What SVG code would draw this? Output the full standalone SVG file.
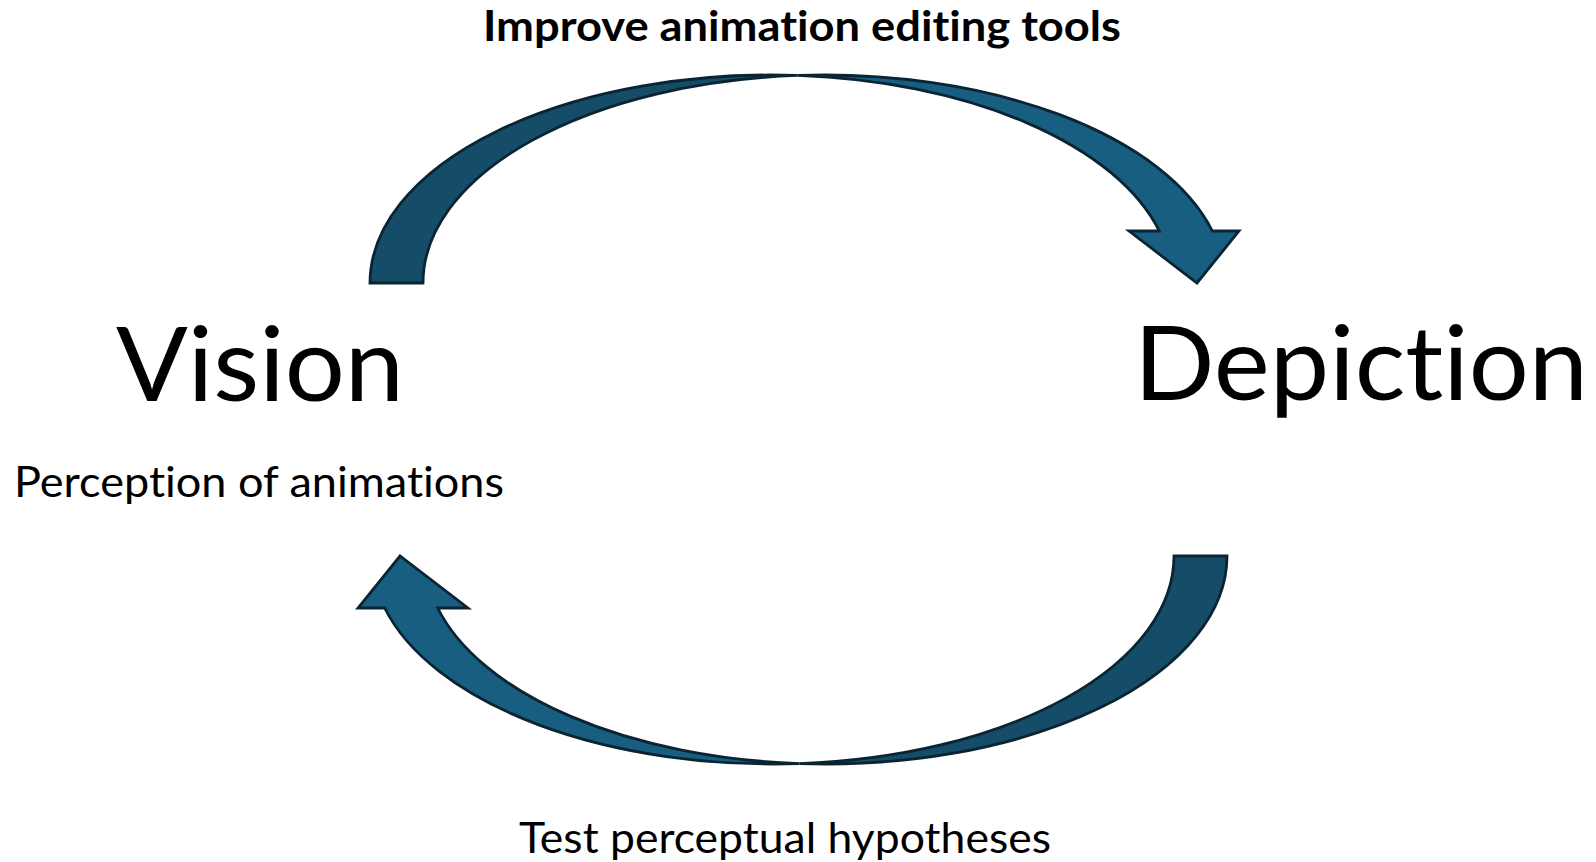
<svg xmlns="http://www.w3.org/2000/svg" xmlns:xlink="http://www.w3.org/1999/xlink" width="1596" height="862" viewBox="0 0 1596 862">
  <style>
    .back { fill: #154c68; stroke: #0a2433; stroke-width: 2.8; stroke-linejoin: miter; }
    .front { fill: #175e80; stroke: #0a2433; stroke-width: 2.8; stroke-linejoin: miter; }
    text { font-family: Lato, "Open Sans", "Liberation Sans", sans-serif; fill: #000; font-variant-ligatures: none; font-feature-settings: "liga" 0, "clig" 0; }
    .big { font-size: 103px; }
    .sub { font-size: 42px; }
    .subb { font-size: 42px; font-weight: bold; }
  </style>
  <defs>
    <g id="curvedArrow">
      <path class="front" d="M 797.5,75.45 A 401 208 0 0 1 1212.3,231 L 1239,231 L 1197,283 L 1129,231 L 1159.3,231 A 401 208 0 0 0 797.5,75.45 Z"/>
      <path class="back" d="M 370,283 A 401 208 0 0 1 797.5,75.45 A 401 208 0 0 0 423,283 Z"/>
    </g>
  </defs>
  <rect x="0" y="0" width="1596" height="862" fill="#ffffff"/>
  <g id="connectors">
    <use id="arrow-vision-to-depiction" xlink:href="#curvedArrow" href="#curvedArrow"/>
    <use id="arrow-depiction-to-vision" xlink:href="#curvedArrow" href="#curvedArrow" transform="rotate(180 798.5 419.5)"/>
    <text id="label-top" class="subb" x="802" y="41" text-anchor="middle" textLength="638" lengthAdjust="spacingAndGlyphs">Improve animation editing tools</text>
    <text id="label-bottom" class="sub" x="785" y="853" text-anchor="middle" textLength="532" lengthAdjust="spacingAndGlyphs">Test perceptual hypotheses</text>
  </g>
  <g id="node-vision">
    <text class="big" x="260" y="401" text-anchor="middle" textLength="288" lengthAdjust="spacingAndGlyphs">Vision</text>
    <text class="sub" x="259" y="497" text-anchor="middle" textLength="490" lengthAdjust="spacingAndGlyphs">Perception of animations</text>
  </g>
  <g id="node-depiction">
    <text class="big" x="1361" y="400" text-anchor="middle" textLength="454" lengthAdjust="spacingAndGlyphs">Depiction</text>
  </g>
</svg>
